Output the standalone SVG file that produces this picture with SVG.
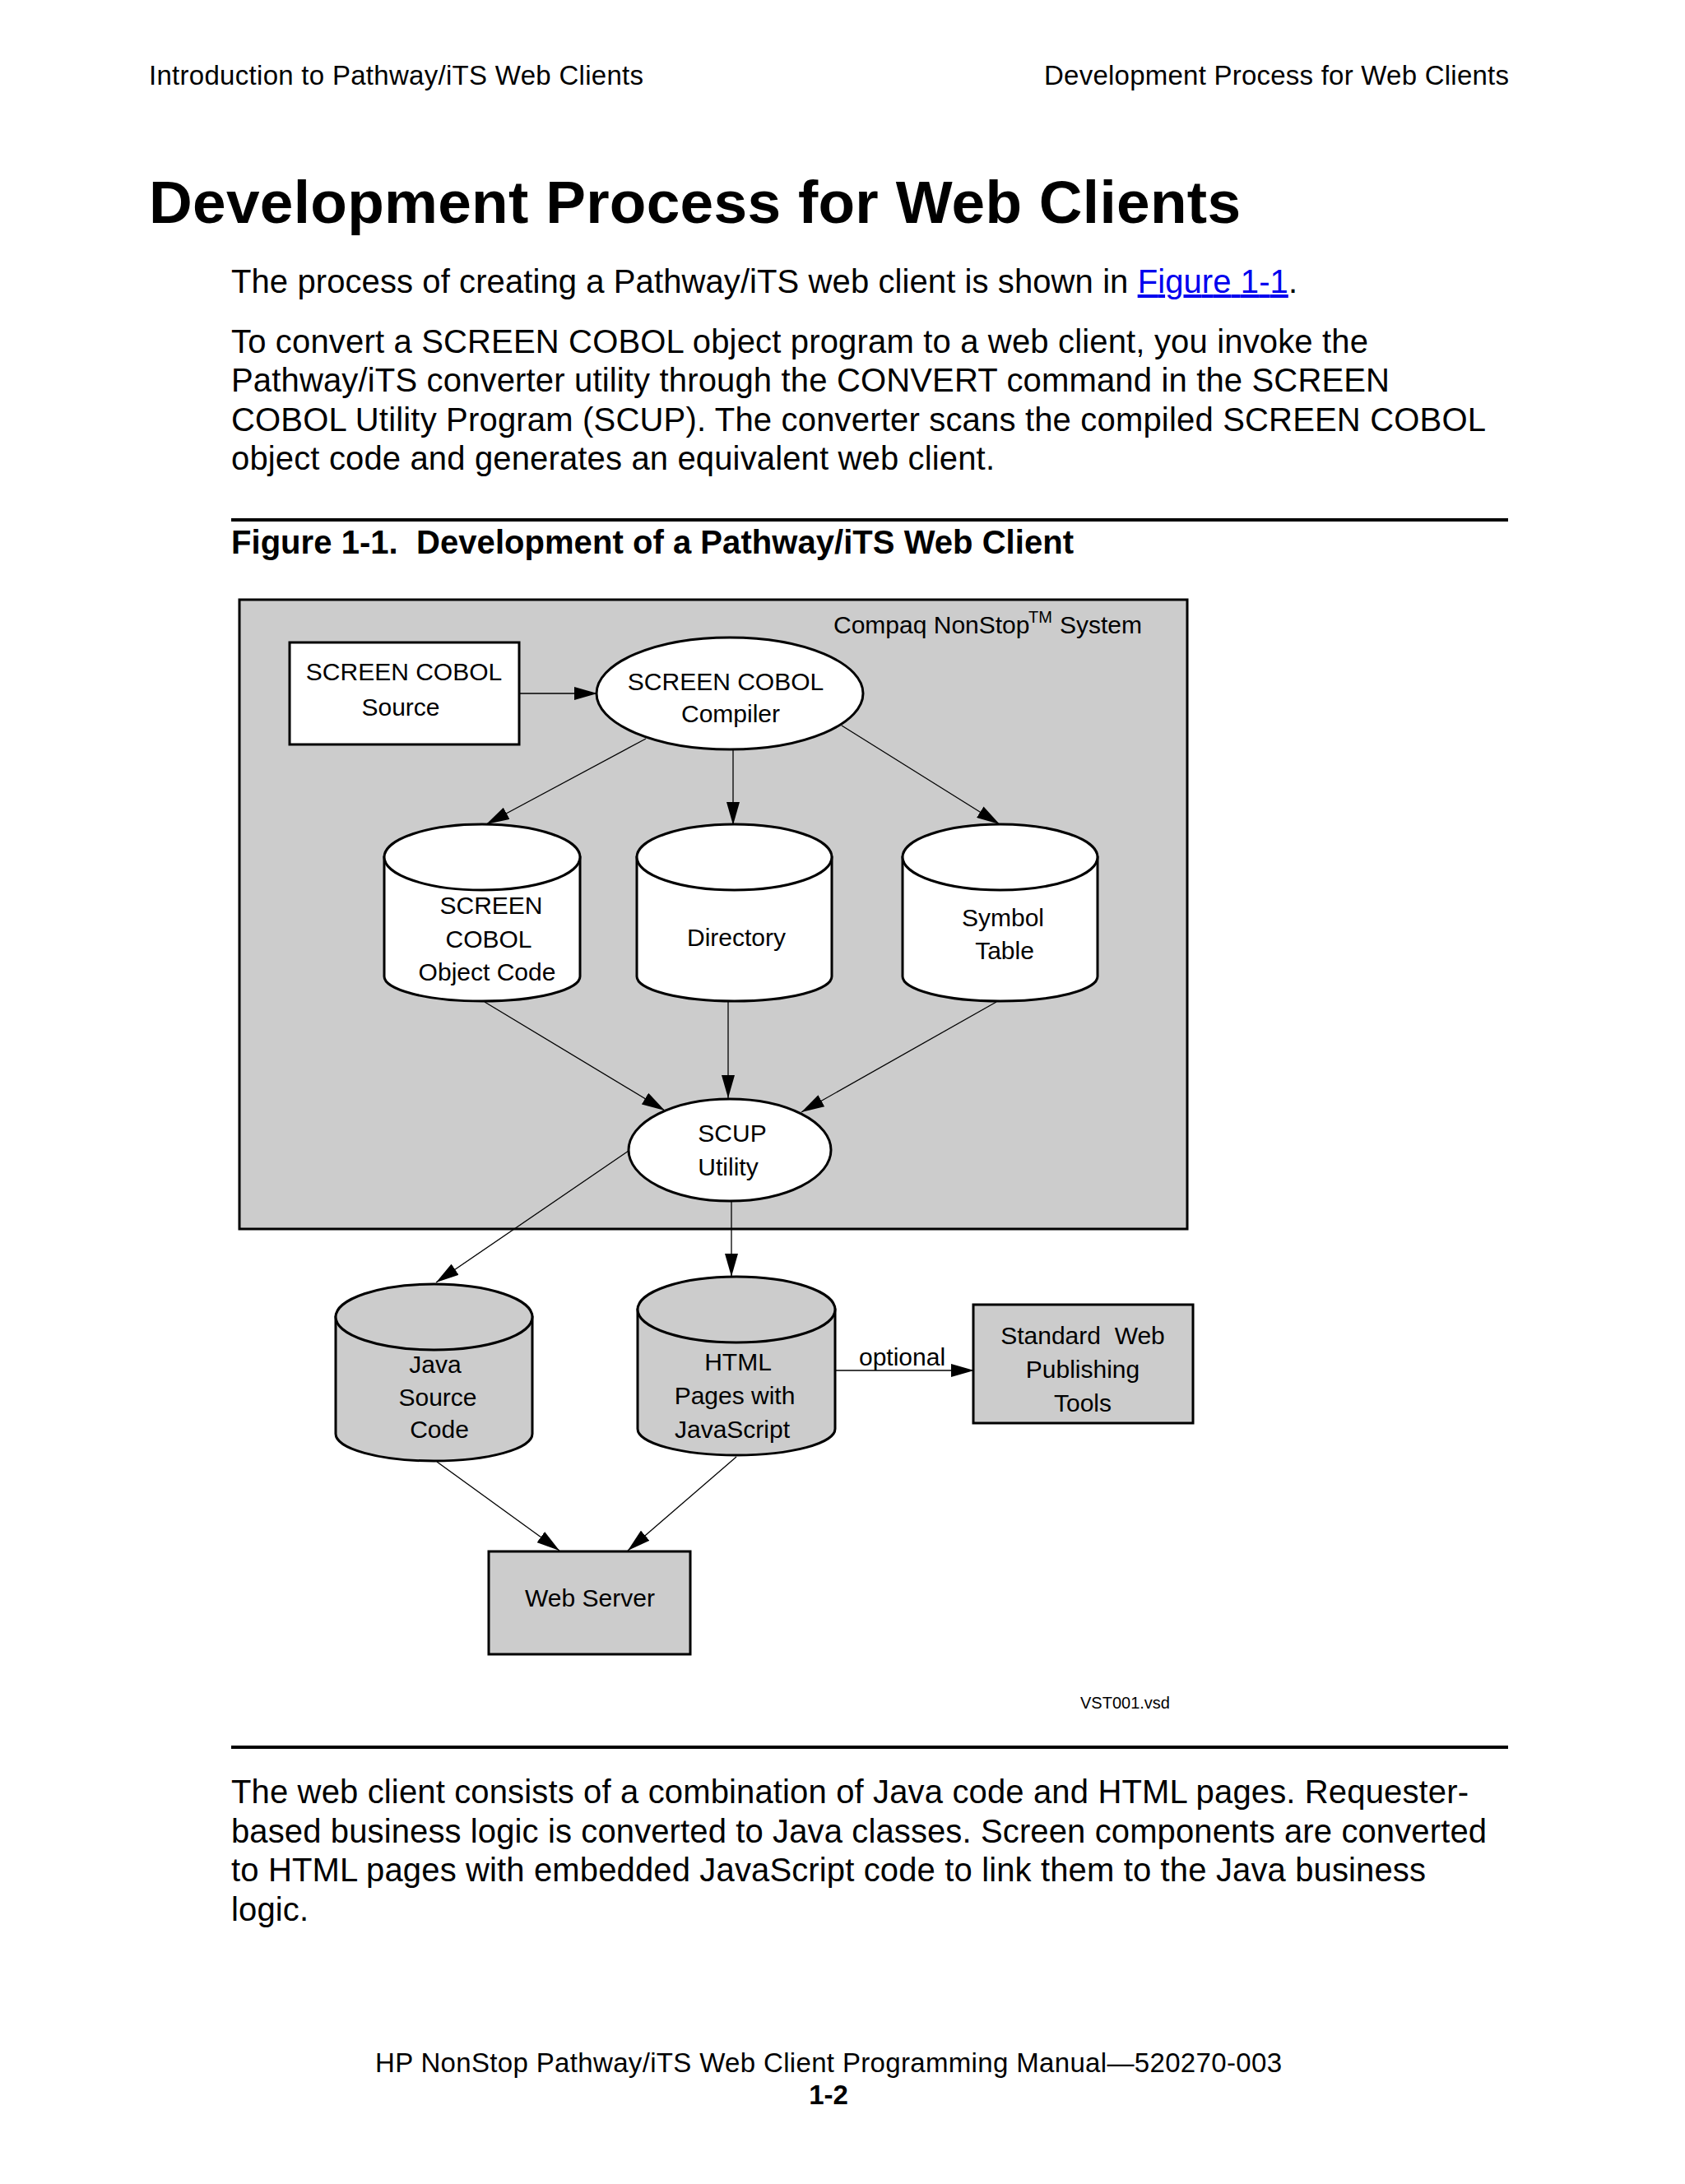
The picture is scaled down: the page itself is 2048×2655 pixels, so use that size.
<svg xmlns="http://www.w3.org/2000/svg" width="2048" height="2655" viewBox="0 0 2048 2655">
<style>
text { font-family: "Liberation Sans", Arial, Helvetica, sans-serif; fill: #000; }
.hdr { font-size: 33px; }
.title { font-size: 73px; font-weight: bold; }
.body { font-size: 40px; }
.cap { font-size: 40px; font-weight: bold; }
.lbl { font-size: 30px; text-anchor: middle; }
.shape { stroke: #000; stroke-width: 3; }
.white { fill: #fff; }
.gray { fill: #cccccc; }
.conn line { stroke: #000; stroke-width: 1.3; marker-end: url(#ah); }
.rule { stroke: #000; stroke-width: 4; }
</style>
<defs>
<marker id="ah" markerUnits="userSpaceOnUse" markerWidth="28" markerHeight="16" refX="28" refY="8" orient="auto">
<path d="M0,0 L28,8 L0,16 z" fill="#000"/>
</marker>
</defs>
<rect x="0" y="0" width="2048" height="2655" fill="#fff"/>

<g id="page-text">
<text class="hdr" x="181" y="103" textLength="601">Introduction to Pathway/iTS Web Clients</text>
<text class="hdr" x="1834" y="103" text-anchor="end" textLength="565">Development Process for Web Clients</text>
<text class="title" x="181" y="271" textLength="1327">Development Process for Web Clients</text>
<text class="body" x="281" y="356" textLength="1296">The process of creating a Pathway/iTS web client is shown in <tspan fill="#0000ee" style="fill:#0000ee" text-decoration="underline">Figure 1-1</tspan>.</text>
<text class="body" x="281" y="429" textLength="1382">To convert a SCREEN COBOL object program to a web client, you invoke the</text>
<text class="body" x="281" y="476" textLength="1408">Pathway/iTS converter utility through the CONVERT command in the SCREEN</text>
<text class="body" x="281" y="524" textLength="1525">COBOL Utility Program (SCUP). The converter scans the compiled SCREEN COBOL</text>
<text class="body" x="281" y="571" textLength="928">object code and generates an equivalent web client.</text>
<line class="rule" x1="281" y1="632" x2="1833" y2="632"/>
<text class="cap" x="281" y="673" xml:space="preserve" textLength="1024">Figure 1-1.  Development of a Pathway/iTS Web Client</text>
<line class="rule" x1="281" y1="2124" x2="1833" y2="2124"/>
<text class="body" x="281" y="2192" textLength="1504">The web client consists of a combination of Java code and HTML pages. Requester-</text>
<text class="body" x="281" y="2240" textLength="1526">based business logic is converted to Java classes. Screen components are converted</text>
<text class="body" x="281" y="2287" textLength="1452">to HTML pages with embedded JavaScript code to link them to the Java business</text>
<text class="body" x="281" y="2335" textLength="94">logic.</text>
<text class="hdr" x="1007" y="2519" text-anchor="middle" textLength="1102">HP NonStop Pathway/iTS Web Client Programming Manual—520270-003</text>
<text class="hdr" x="1007" y="2558" text-anchor="middle" font-weight="bold">1-2</text>
</g>

<g id="system-boundary">
<rect class="shape gray" x="291" y="729" width="1152" height="765" stroke-width="3.5"/>
<text style="font-size:30px" x="1013" y="770">Compaq NonStop</text>
<text style="font-size:20px" x="1250" y="757">TM</text>
<text style="font-size:30px" x="1288" y="770">System</text>
</g>

<g id="connectors" class="conn">
<line x1="631" y1="843" x2="726" y2="843"/>
<line x1="785" y1="898" x2="591" y2="1002"/>
<line x1="891" y1="912" x2="891" y2="1003"/>
<line x1="1023" y1="882" x2="1215" y2="1002"/>
<line x1="589" y1="1218" x2="808" y2="1350"/>
<line x1="885" y1="1218" x2="885" y2="1335"/>
<line x1="1211" y1="1218" x2="974" y2="1352"/>
<line x1="764" y1="1399" x2="530" y2="1559"/>
<line x1="889" y1="1461" x2="889" y2="1552"/>
<line x1="1015" y1="1666" x2="1184" y2="1666"/>
<line x1="531" y1="1777" x2="680" y2="1885"/>
<line x1="895" y1="1771" x2="763" y2="1885"/>
</g>
<text style="font-size:30px" x="1044" y="1660">optional</text>

<g id="screen-cobol-source">
<rect class="shape white" x="352" y="781" width="279" height="124"/>
<text class="lbl" x="491" y="827">SCREEN COBOL</text>
<text class="lbl" x="487" y="870">Source</text>
</g>

<g id="screen-cobol-compiler">
<ellipse class="shape white" cx="887" cy="843" rx="162" ry="68"/>
<text class="lbl" x="882" y="839">SCREEN COBOL</text>
<text class="lbl" x="888" y="878">Compiler</text>
</g>

<g id="object-code">
<path class="shape white" d="M467,1042 V1187 A119,30 0 0 0 705,1187 V1042 Z"/>
<ellipse class="shape white" cx="586" cy="1042" rx="119" ry="40"/>
<text class="lbl" x="597" y="1111">SCREEN</text>
<text class="lbl" x="594" y="1152">COBOL</text>
<text class="lbl" x="592" y="1192">Object Code</text>
</g>

<g id="directory">
<path class="shape white" d="M774,1042 V1187 A118.5,30 0 0 0 1011,1187 V1042 Z"/>
<ellipse class="shape white" cx="892.5" cy="1042" rx="118.5" ry="40"/>
<text class="lbl" x="895" y="1150">Directory</text>
</g>

<g id="symbol-table">
<path class="shape white" d="M1097,1042 V1187 A118.5,30 0 0 0 1334,1187 V1042 Z"/>
<ellipse class="shape white" cx="1215.5" cy="1042" rx="118.5" ry="40"/>
<text class="lbl" x="1219" y="1126">Symbol</text>
<text class="lbl" x="1221" y="1166">Table</text>
</g>

<g id="scup-utility">
<ellipse class="shape white" cx="887" cy="1398" rx="123" ry="62"/>
<text class="lbl" x="890" y="1388">SCUP</text>
<text class="lbl" x="885" y="1429">Utility</text>
</g>

<g id="java-source">
<path class="shape gray" d="M408,1601 V1743 A119.5,33 0 0 0 647,1743 V1601 Z"/>
<ellipse class="shape gray" cx="527.5" cy="1601" rx="119.5" ry="40"/>
<text class="lbl" x="529" y="1669">Java</text>
<text class="lbl" x="532" y="1709">Source</text>
<text class="lbl" x="534" y="1748">Code</text>
</g>

<g id="html-pages">
<path class="shape gray" d="M775,1592 V1737 A120,32 0 0 0 1015,1737 V1592 Z"/>
<ellipse class="shape gray" cx="895" cy="1592" rx="120" ry="40"/>
<text class="lbl" x="897" y="1666">HTML</text>
<text class="lbl" x="893" y="1707">Pages with</text>
<text class="lbl" x="890" y="1748">JavaScript</text>
</g>

<g id="standard-web-tools">
<rect class="shape gray" x="1183" y="1586" width="267" height="144"/>
<text class="lbl" x="1316" y="1634" xml:space="preserve">Standard  Web</text>
<text class="lbl" x="1316" y="1675">Publishing</text>
<text class="lbl" x="1316" y="1716">Tools</text>
</g>

<g id="web-server">
<rect class="shape gray" x="594" y="1886" width="245" height="125"/>
<text class="lbl" x="717" y="1953">Web Server</text>
</g>

<text style="font-size:20px" x="1313" y="2077">VST001.vsd</text>
</svg>
